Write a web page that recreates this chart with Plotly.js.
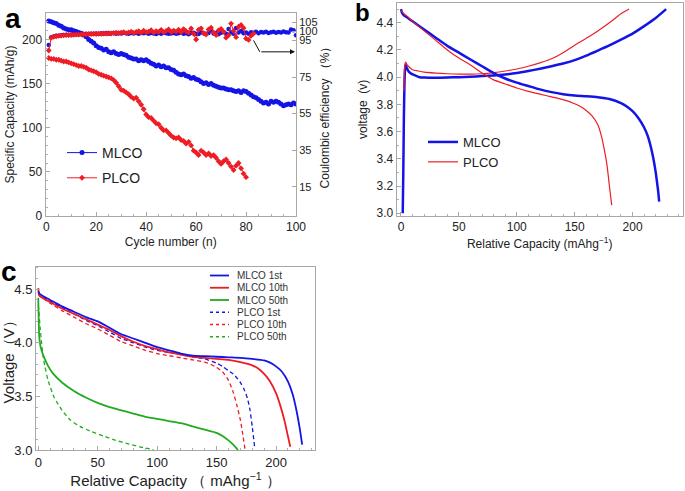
<!DOCTYPE html>
<html><head><meta charset="utf-8">
<script src="https://cdn.plot.ly/plotly-3.0.1.min.js"></script>
<style>html,body{margin:0;padding:0;background:#fff}#chart{width:685px;height:491px}</style>
</head><body><div id="chart"></div>
<script>
// ---------- Panel a: cycling ----------
const cyclesM = [1,2,3,4,5,6,7,8,9,10,11,12,13,14,15,16,17,18,19,20,21,22,23,24,25,26,27,28,29,30,31,32,33,34,35,36,37,38,39,40,41,42,43,44,45,46,47,48,49,50,51,52,53,54,55,56,57,58,59,60,61,62,63,64,65,66,67,68,69,70,71,72,73,74,75,76,77,78,79,80,81,82,83,84,85,86,87,88,89,90,91,92,93,94,95,96,97,98,99,100];
const capM = [221,220,219,218,216,215,213,212,211,211,210,209,208,207,205,203,200,198,196,193,191,190,188,189,186,185,186,184,183,184,183,182,180,179,178,178,176,177,176,177,175,173,172,170,171,169,170,168,168,166,165,163,161,160,161,159,158,156,157,155,154,152,150,151,149,150,148,147,146,145,145,144,143,143,142,141,142,140,142,141,139,137,135,134,132,130,128,129,127,130,129,130,129,127,125,126,127,126,128,127];
const cyclesP = [1,2,3,4,5,6,7,8,9,10,11,12,13,14,15,16,17,18,19,20,21,22,23,24,25,26,27,28,29,30,31,32,33,34,35,36,37,38,39,40,41,42,43,44,45,46,47,48,49,50,51,52,53,54,55,56,57,58,59,60,61,62,63,64,65,66,67,68,69,70,71,72,73,74,75,76,77,78,79,80];
const capP = [179,178,178,177,177,176,175,175,174,173,172,171,170,170,169,168,166,165,164,163,161,160,159,158,157,156,154,151,147,143,142,140,138,135,133,134,130,126,121,115,112,111,108,105,104,100,97,97,94,91,89,88,89,86,85,82,84,80,74,72,69,74,72,69,71,68,69,66,62,59,62,64,60,56,52,57,60,54,48,44];
const ceM = [92.5,96.8,97.2,97.5,97.6,97.8,98.0,98.1,98.0,98.3,98.2,98.4,98.3,98.5,98.4,98.6,98.5,98.7,98.6,98.8,98.5,98.9,98.7,99.0,98.6,98.9,99.1,98.7,99.0,98.8,99.2,98.9,98.6,99.1,98.8,99.0,98.7,99.2,98.9,99.0,98.6,99.1,98.8,98.5,99.0,98.7,99.2,98.9,98.6,98.8,99.1,98.7,98.9,99.3,98.6,98.9,98.4,99.0,99.2,98.7,98.5,99.3,98.9,98.6,99.1,100.4,98.8,99.0,98.4,99.2,99.6,98.7,101.2,99.5,98.6,101.8,99.4,100.2,98.9,99.3,98.6,99.5,99.2,99.8,98.9,99.6,99.3,99.7,99.1,99.5,99.8,99.2,99.6,99.4,99.9,99.5,99.3,101.0,100.5,97.8];
const cyclesCeP = [1,2,3,4,5,6,7,8,9,10,11,12,13,14,15,16,17,18,19,20,21,22,23,24,25,26,27,28,29,30,31,32,33,34,35,36,37,38,39,40,41,42,43,44,45,46,47,48,49,50,51,52,53,54,55,56,57,58,59,60,61,62,63,64,65,66,67,68,69,70,71,72,73,74,75,76,77,78,79,80,81,82,83];
const ceP = [89.5,96.5,97.0,97.3,97.5,97.6,97.8,97.9,98.0,98.0,98.1,98.2,98.2,98.3,98.4,98.3,98.5,98.5,98.6,98.5,98.7,98.6,98.8,98.7,98.9,98.8,99.0,99.2,98.9,99.3,99.5,99.0,99.4,99.8,99.1,99.6,100.0,99.2,100.3,99.5,99.8,100.6,99.3,100.1,99.7,100.8,99.4,100.2,101.0,99.6,100.4,99.8,100.9,99.5,101.2,100.0,99.3,101.5,98.6,95.5,100.8,101.6,99.0,98.2,101.0,102.0,99.4,98.0,100.5,101.3,99.7,96.5,97.8,104.2,100.2,96.8,102.5,103.5,101.8,96.0,95.3,97.5,98.8];
const ceTicks = [15,35,55,75,95,100,105];

// ---------- Panel b: first charge/discharge ----------
const bMChgX = [1.5,2,2.5,3,3.5,4,5,6,8,10,13,16,20,30,40,50,60,70,80,90,100,110,120,130,140,150,160,170,180,190,200,210,220,229];
const bMChgY = [3.0,3.3,3.7,3.95,4.06,4.09,4.07,4.05,4.03,4.02,4.01,4.0,3.997,3.995,3.997,4.0,4.003,4.008,4.013,4.02,4.03,4.045,4.062,4.08,4.1,4.125,4.158,4.195,4.233,4.275,4.32,4.375,4.435,4.5];
const bMDisX = [0,1,3,5,10,20,30,40,50,60,70,80,90,100,110,120,130,140,150,160,170,180,190,195,200,205,210,213,216,218,220,222,223];
const bMDisY = [4.5,4.47,4.45,4.44,4.41,4.35,4.29,4.23,4.18,4.13,4.08,4.03,3.99,3.96,3.935,3.91,3.89,3.875,3.865,3.86,3.853,3.84,3.81,3.785,3.75,3.7,3.63,3.57,3.48,3.4,3.3,3.17,3.085];
const bPChgX = [2.5,3,3.5,4,5,7,10,15,20,30,40,50,60,70,80,90,100,110,120,130,140,150,160,170,180,190,197];
const bPChgY = [3.9,4.05,4.1,4.11,4.095,4.075,4.055,4.045,4.037,4.03,4.025,4.022,4.022,4.025,4.033,4.045,4.06,4.08,4.105,4.135,4.18,4.235,4.285,4.34,4.4,4.465,4.5];
const bPDisX = [0,2,5,10,20,30,40,50,60,70,80,90,100,110,120,130,140,150,155,160,165,170,173,176,178,180,182];
const bPDisY = [4.49,4.47,4.45,4.41,4.34,4.27,4.2,4.14,4.09,4.03,3.98,3.95,3.92,3.895,3.875,3.855,3.835,3.805,3.785,3.755,3.715,3.65,3.57,3.45,3.35,3.2,3.06];

// ---------- Panel c: discharge curves ----------
const cM1X = [0,1,5,10,20,30,40,50,60,70,80,90,100,110,120,130,140,150,160,170,180,190,195,200,205,210,214,217,220,222];
const cM1Y = [4.48,4.46,4.43,4.4,4.34,4.29,4.24,4.2,4.14,4.08,4.04,4.0,3.96,3.93,3.9,3.88,3.875,3.87,3.865,3.86,3.85,3.835,3.815,3.78,3.73,3.64,3.52,3.38,3.2,3.05];
const cM10X = [0,0.5,1,5,10,20,30,40,50,60,70,80,90,100,110,120,130,140,150,160,170,180,185,190,195,200,204,207,210,212];
const cM10Y = [4.51,4.46,4.44,4.41,4.38,4.32,4.27,4.22,4.17,4.12,4.06,4.01,3.97,3.94,3.91,3.89,3.87,3.86,3.85,3.84,3.82,3.79,3.76,3.71,3.64,3.53,3.4,3.28,3.13,3.03];
const cM50X = [0,0.3,0.8,2,4,8,12,20,30,40,50,60,70,80,90,100,110,120,130,140,150,155,160,164,168];
const cM50Y = [4.42,4.25,4.06,3.96,3.89,3.79,3.72,3.63,3.55,3.49,3.44,3.4,3.37,3.34,3.31,3.29,3.27,3.25,3.22,3.19,3.16,3.13,3.09,3.05,3.0];
const cP1X = [0,1,5,10,20,30,40,50,60,70,80,90,100,110,120,130,140,150,155,160,165,170,173,176,178,180,182];
const cP1Y = [4.47,4.45,4.42,4.39,4.33,4.27,4.21,4.16,4.1,4.04,4.0,3.96,3.93,3.91,3.89,3.87,3.85,3.81,3.78,3.74,3.7,3.63,3.57,3.48,3.38,3.22,3.03];
const cP10X = [0,1,5,10,20,30,40,50,60,70,80,90,100,110,120,130,140,145,150,155,160,164,167,170,172,174];
const cP10Y = [4.46,4.44,4.41,4.37,4.3,4.24,4.18,4.13,4.07,4.01,3.97,3.93,3.9,3.88,3.86,3.84,3.82,3.8,3.77,3.73,3.65,3.54,3.42,3.28,3.15,3.0];
const cP50X = [0,0.5,1.5,2.8,4,5.6,8,10,13,16,20,27,35,45,55,65,75,85,92,97];
const cP50Y = [4.35,4.3,4.15,4.0,3.88,3.78,3.66,3.59,3.5,3.44,3.37,3.28,3.22,3.17,3.13,3.09,3.06,3.03,3.015,3.0];
const cNames = ['MLCO 1st','MLCO 10th','MLCO 50th','PLCO 1st','PLCO 10th','PLCO 50th'];

const BLUE='#1414e6', RED='#ee1c24', GREEN='#22aa22';
const FONT='Arial, "Liberation Sans", sans-serif';
const W=685, H=491;
const px=(v)=>v/W, py=(v)=>1-v/H;

const traces = [
  {x:cyclesM, y:capM, name:'MLCO', type:'scatter', mode:'lines+markers', xaxis:'x', yaxis:'y', legend:'legend', legendgroup:'m',
   line:{color:BLUE,width:1}, marker:{color:BLUE,size:5,symbol:'circle'}},
  {x:cyclesP, y:capP, name:'PLCO', type:'scatter', mode:'lines+markers', xaxis:'x', yaxis:'y', legend:'legend', legendgroup:'p',
   line:{color:RED,width:1}, marker:{color:RED,size:4.5,symbol:'diamond'}},
  {x:cyclesM, y:ceM, name:'MLCO CE', type:'scatter', mode:'markers', xaxis:'x', yaxis:'y2', showlegend:false,
   marker:{color:BLUE,size:4.5,symbol:'circle'}},
  {x:cyclesCeP, y:ceP, name:'PLCO CE', type:'scatter', mode:'lines+markers', xaxis:'x', yaxis:'y2', showlegend:false,
   line:{color:RED,width:1}, marker:{color:RED,size:4.5,symbol:'diamond'}},

  {x:bMChgX, y:bMChgY, name:'MLCO', type:'scatter', mode:'lines', xaxis:'x2', yaxis:'y3', legend:'legend2',
   line:{color:BLUE,width:2.5,shape:'spline',smoothing:0.5}},
  {x:bPChgX, y:bPChgY, name:'PLCO', type:'scatter', mode:'lines', xaxis:'x2', yaxis:'y3', legend:'legend2',
   line:{color:RED,width:1.2,shape:'spline',smoothing:0.5}},
  {x:bMDisX, y:bMDisY, name:'MLCO discharge', type:'scatter', mode:'lines', xaxis:'x2', yaxis:'y3', showlegend:false,
   line:{color:BLUE,width:2.5,shape:'spline',smoothing:0.5}},
  {x:bPDisX, y:bPDisY, name:'PLCO discharge', type:'scatter', mode:'lines', xaxis:'x2', yaxis:'y3', showlegend:false,
   line:{color:RED,width:1.2,shape:'spline',smoothing:0.5}},
];

const cSeries = [
  [cM1X,cM1Y,BLUE,'solid'],[cM10X,cM10Y,RED,'solid'],[cM50X,cM50Y,GREEN,'solid'],
  [cP1X,cP1Y,BLUE,'dash'],[cP10X,cP10Y,RED,'dash'],[cP50X,cP50Y,GREEN,'dash']
];
[5,4,3,2,1,0].forEach(i=>{
  const s=cSeries[i];
  traces.push({x:s[0], y:s[1], name:cNames[i], type:'scatter', mode:'lines', xaxis:'x3', yaxis:'y4', showlegend:false,
    line:{color:s[2], width:s[3]==='solid'?1.8:1.3, dash:s[3]==='solid'?'solid':'4px,3px', shape:'spline', smoothing:0.5}});
});

const axBase = {showline:true, linecolor:'#a8a8a8', linewidth:1, mirror:true, ticks:'inside', ticklen:4, tickcolor:'#a8a8a8',
  showgrid:false, zeroline:false, tickfont:{family:FONT,size:12,color:'#222'}, automargin:false};

const shapes=[], annotations=[];
// panel c legend (drawn as layout items so the row spacing matches)
cSeries.forEach((s,i)=>{
  const yy = 275.5 + i*12.25;
  shapes.push({type:'line', xref:'paper', yref:'paper', x0:px(210), x1:px(229), y0:py(yy), y1:py(yy),
    line:{color:s[2], width:s[3]==='solid'?1.8:1.3, dash:s[3]==='solid'?'solid':'3px,3px'}});
  annotations.push({xref:'paper', yref:'paper', x:px(235), y:py(yy), xanchor:'left', yanchor:'middle', text:cNames[i],
    showarrow:false, font:{family:FONT,size:10,color:'#333'}});
});
// arrow in panel a
shapes.push({type:'line', xref:'x', yref:'y', x0:83, y0:199, x1:85.5, y1:186, line:{color:'#111',width:1}});
annotations.push({xref:'x', yref:'y', x:99.6, y:186, axref:'x', ayref:'y', ax:85.5, ay:186, text:'', showarrow:true,
  arrowhead:2, arrowsize:1, arrowwidth:1, arrowcolor:'#111'});
// panel letters
annotations.push({xref:'paper', yref:'paper', x:px(13), y:py(19), text:'<b>a</b>', showarrow:false, xanchor:'center', yanchor:'middle', font:{family:FONT,size:28,color:'#000'}});
annotations.push({xref:'paper', yref:'paper', x:px(362), y:py(13), text:'<b>b</b>', showarrow:false, xanchor:'center', yanchor:'middle', font:{family:FONT,size:24,color:'#000'}});
annotations.push({xref:'paper', yref:'paper', x:px(9), y:py(271), text:'<b>c</b>', showarrow:false, xanchor:'center', yanchor:'middle', font:{family:FONT,size:28,color:'#000'}});

const tf = (s)=>({family:FONT,size:s,color:'#222'});

const layout = {
  width:W, height:H, margin:{l:0,r:0,t:0,b:0}, paper_bgcolor:'#fff', plot_bgcolor:'#fff',
  font:{family:FONT,color:'#222'},
  xaxis: Object.assign({}, axBase, {domain:[px(45.5),px(296)], range:[-0.3,100], anchor:'y', dtick:20,
    minor:{dtick:5,ticks:'inside',ticklen:2,tickcolor:'#b0b0b0'},
    title:{text:'Cycle number (n)', font:tf(12), standoff:4}}),
  yaxis: Object.assign({}, axBase, {domain:[py(216),py(13)], range:[0,230], anchor:'x', dtick:50,
    minor:{dtick:10,ticks:'inside',ticklen:2,tickcolor:'#b0b0b0'},
    title:{text:'Specific Capacity (mAh/g)', font:tf(12), standoff:4}}),
  yaxis2: Object.assign({}, axBase, {overlaying:'y', side:'right', anchor:'x', range:[-1,110], tickvals:ceTicks, mirror:false,
    tickfont:tf(11), title:{text:'Coulombic efficiency （%）', font:tf(12), standoff:4}}),
  xaxis2: Object.assign({}, axBase, {domain:[px(396.7),px(682.7)], range:[-3.7,243.3], anchor:'y3', dtick:50,
    minor:{dtick:10,ticks:'inside',ticklen:2,tickcolor:'#b0b0b0'},
    title:{text:'Relative Capacity (mAhg<sup>−1</sup>)', font:tf(12), standoff:6}}),
  yaxis3: Object.assign({}, axBase, {domain:[py(216),py(2.7)], range:[2.98,4.547], anchor:'x2', dtick:0.2, tickformat:'.1f',
    minor:{dtick:0.1,ticks:'inside',ticklen:2,tickcolor:'#b0b0b0'},
    title:{text:'voltage  (v)', font:tf(12), standoff:6}}),
  xaxis3: Object.assign({}, axBase, {domain:[px(36),px(315)], range:[-1.9,232.8], anchor:'y4', dtick:50,
    minor:{dtick:10,ticks:'inside',ticklen:2,tickcolor:'#b0b0b0'}, tickfont:tf(13),
    title:{text:'Relative Capacity （ mAhg<sup>−1</sup> ）', font:tf(15), standoff:6}}),
  yaxis4: Object.assign({}, axBase, {domain:[py(450),py(266.7)], range:[3.0,4.71], anchor:'x3', dtick:0.5, tickformat:'.1f',
    minor:{dtick:0.1,ticks:'inside',ticklen:2,tickcolor:'#b0b0b0'}, tickfont:tf(13),
    title:{text:'Voltage（V）', font:tf(15), standoff:4}}),
  legend: {x:px(62), y:py(137), xanchor:'left', yanchor:'top', bgcolor:'rgba(0,0,0,0)', tracegroupgap:4,
    font:{family:FONT,size:14,color:'#222'}},
  legend2: {x:px(423), y:py(127), xanchor:'left', yanchor:'top', bgcolor:'rgba(0,0,0,0)',
    font:{family:FONT,size:13,color:'#222'}},
  shapes: shapes, annotations: annotations, showlegend:true
};

Plotly.newPlot('chart', traces, layout, {staticPlot:true, displayModeBar:false});
</script></body></html>
